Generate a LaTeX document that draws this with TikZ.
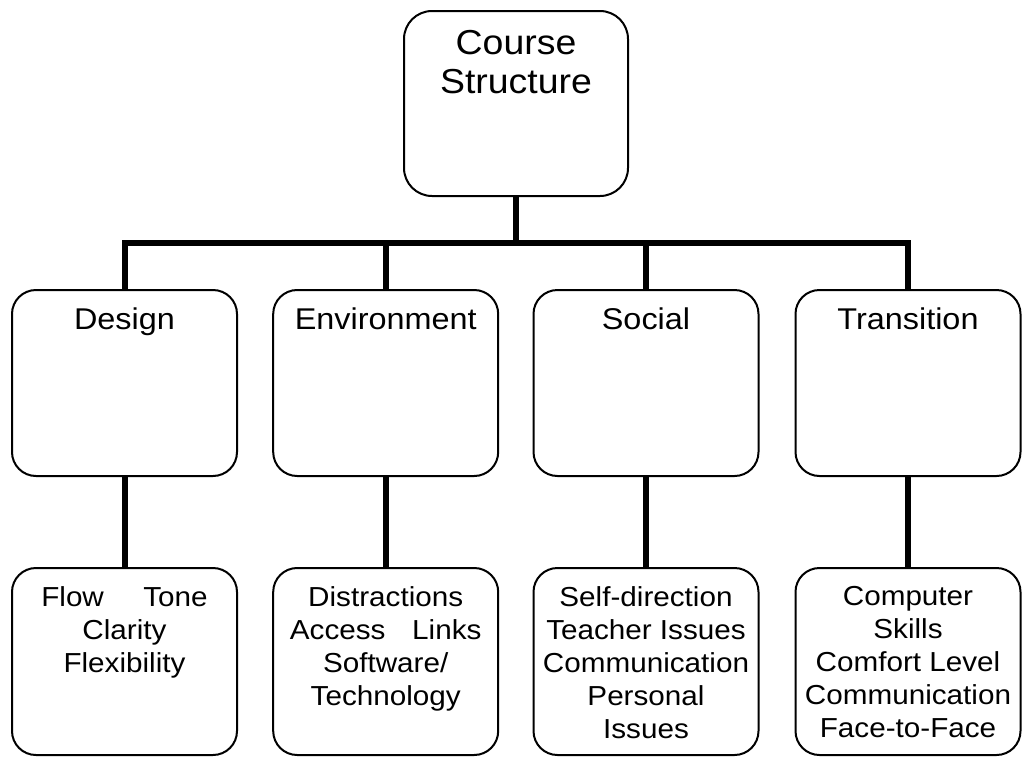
\documentclass[tikz,border=0pt]{standalone}
\usepackage{fontspec}
\setmainfont{Liberation Sans}
\newcommand\fTop{\fontsize{26}{29.25}\selectfont}
\newcommand\fMid{\fontsize{22.5}{27}\selectfont}
\newcommand\fBot{\fontsize{20.6}{24.75}\selectfont}
\begin{document}
\begin{tikzpicture}[x=0.75pt,y=-0.75pt,
  box/.style={draw, line width=1.5pt, rounded corners=18pt, minimum width=168.75pt, minimum height=139.5pt, inner sep=0pt},
  topbox/.style={box, rounded corners=21pt, minimum width=168pt, minimum height=138.75pt},
  botbox/.style={box, minimum height=140.25pt},
  conn/.style={line width=4.5pt, line join=miter},
  txt/.style={inner sep=0pt, align=center, anchor=north, xscale=1.08, transform shape}]
\useasboundingbox (0,0) rectangle (1029,761);
% boxes
\node[topbox] (top) at (516,103.5) {};
\node[box] (design) at (124.5,383) {};
\node[box] (env) at (385.7,383) {};
\node[box] (soc) at (646,383) {};
\node[box] (trans) at (908,383) {};
\node[botbox] (designB) at (124.5,661.5) {};
\node[botbox] (envB) at (385.7,661.5) {};
\node[botbox] (socB) at (646,661.5) {};
\node[botbox] (transB) at (908,661.5) {};
% texts
\node[txt, font=\fTop] (topT) at (516,30.5) {Course\\Structure};
\node[txt, font=\fMid] (designT) at (124.5,307.5) {Design};
\node[txt, font=\fMid] (envT) at (385.7,307.5) {Environment};
\node[txt, font=\fMid] (socT) at (646,307.5) {Social};
\node[txt, font=\fMid] (transT) at (908,307.5) {Transition};
\node[txt, font=\fBot] (designBT) at (124.5,586.5) {Flow\hspace{1.33em}Tone\\Clarity\\Flexibility};
\node[txt, font=\fBot] (envBT) at (385.7,586.5) {Distractions\\Access\hspace{0.9em}Links\\Software/\\Technology};
\node[txt, font=\fBot] (socBT) at (646,586.5) {Self-direction\\Teacher Issues\\Communication\\Personal\\Issues};
\node[txt, font=\fBot] (transBT) at (908,586.5) {Computer\\Skills\\Comfort Level\\Communication\\Face-to-Face};
% connectors
\coordinate (bus) at (516,243.3);
\draw[conn] (design.north) |- (bus) -| (trans.north);
\draw[conn] (top.south) -- (bus);
\draw[conn] (env.north |- bus) -- (env.north);
\draw[conn] (soc.north |- bus) -- (soc.north);
\draw[conn] (design.south) -- (designB.north);
\draw[conn] (env.south) -- (envB.north);
\draw[conn] (soc.south) -- (socB.north);
\draw[conn] (trans.south) -- (transB.north);
\end{tikzpicture}
\end{document}
